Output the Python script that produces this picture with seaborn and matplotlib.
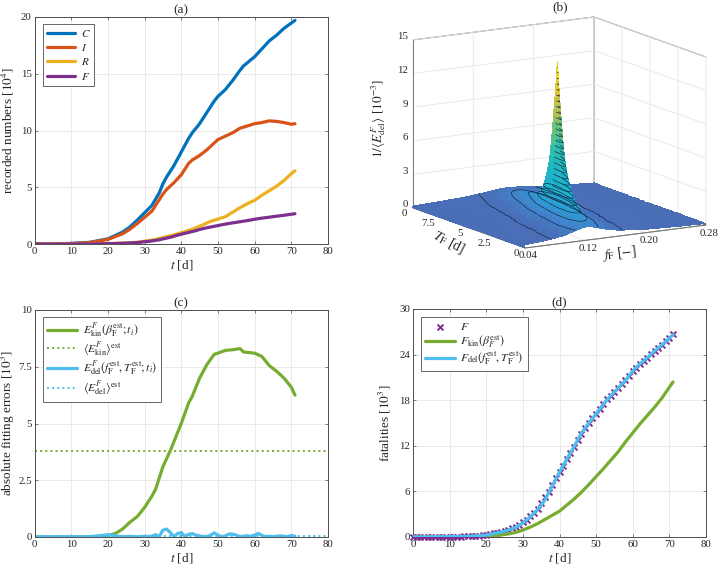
import numpy as np
import matplotlib
matplotlib.use("Agg")
import matplotlib.pyplot as plt
from matplotlib.colors import LinearSegmentedColormap
from mpl_toolkits.mplot3d import proj3d
import seaborn as sns

# ---------- panel (a) ----------
t_C = [0,5,10,15,20,22,24,26,28,30,32,34,35,36,38,40,42,43,45,47,49,50,52,54,56,57,60,62,64,66,68,71]
C = [0,.01,.05,.15,.45,.75,1.05,1.5,2.1,2.75,3.4,4.5,5.3,5.9,6.9,8.1,9.3,9.8,10.6,11.6,12.6,13,13.6,14.4,15.3,15.7,16.5,17.2,17.9,18.4,19,19.7]
t_I = [0,5,10,15,20,22,24,26,28,30,32,34,35,36,38,40,42,43,45,47,49,50,52,54,56,58,60,62,64,66,68,70,71]
I = [0,.01,.04,.12,.4,.65,.9,1.3,1.8,2.35,2.9,3.9,4.4,4.8,5.4,6.1,7.1,7.4,7.8,8.3,8.9,9.2,9.5,9.8,10.2,10.4,10.6,10.7,10.85,10.8,10.7,10.55,10.6]
t_R = [0,10,20,25,28,30,33,36,38,40,43,46,48,50,52,54,56,58,60,62,64,66,68,70,71]
R = [0,0,.02,.1,.15,.25,.4,.65,.8,1,1.3,1.7,2,2.2,2.4,2.8,3.2,3.55,3.85,4.3,4.7,5.1,5.6,6.2,6.45]

# ---------- fatalities, daily, in thousands ----------
t_days = list(range(72))
F_k = [0,0,0,0,0,0,0,.01,.01,.02,.02,.03,.04,.05,.07,.09,.12,.15,.19,.24,.3,.38,.47,.58,.68,.8,.95,1.12,1.3,1.6,
       2.0,2.3,2.7,3.2,3.7,4.5,5.2,5.9,6.8,7.8,8.6,9.4,10.2,11,11.8,12.8,13.6,14.3,15,15.6,16.2,16.9,17.5,18.1,
       18.6,19.1,19.6,20.1,20.6,21.2,21.8,22.3,22.8,23.2,23.6,24.1,24.5,24.9,25.3,25.8,26.2,26.7]
t_kin = [0,15,20,22,24,26,28,30,32,34,36,38,40,42,44,46,48,50,52,54,56,58,60,62,64,66,68,70,71]
F_kin = [0,.02,.1,.17,.26,.4,.6,.9,1.3,1.75,2.3,2.85,3.4,4.2,5.0,5.9,6.9,7.95,9,10.1,11.2,12.5,13.7,14.9,16,17.1,18.3,19.7,20.4]
t_del = [0,15,20,25,28,30,32,34,35,36,38,40,42,44,46,48,50,52,54,56,58,60,62,64,66,68,71]
F_del = [0,.08,.25,.75,1.25,1.85,2.65,3.6,4.2,4.85,6.7,8.55,10.25,11.9,13.7,15,16.2,17.5,18.6,19.6,20.6,21.85,22.8,23.6,24.5,25.3,26.6]

# ---------- panel (c) ----------
t_Ekin = [0,15,20,22,24,26,28,30,32,33,35,37,40,42,43,45,47,49,50,52,54,56,57,60,62,64,66,68,70,71]
E_kin = [0,0,.06,.15,.35,.65,.9,1.3,1.8,2.1,3.1,3.8,5,5.9,6.2,7,7.6,8.05,8.1,8.22,8.25,8.3,8.15,8.1,7.95,7.55,7.3,7,6.6,6.25]
t_Edel = list(range(15,72))
E_del = [.02,.03,.04,.06,.08,.1,.08,.05,.03,.02,.02,.03,.02,.01,.02,.03,.02,.04,.1,.02,.3,.35,.2,.02,.15,.2,.02,.12,.15,.08,.05,.02,.02,.08,.18,.08,.02,.05,.13,.13,.08,.02,.04,.05,.03,.08,.16,.07,.02,.03,.02,.03,.05,.03,.02,.07,.03]
E_kin_mean = 3.8
E_del_mean = 0.05

# ---------- panel (b) surface, read along the ridge ----------
T_st = [0,.5,1,1.5,2,2.3,2.6,2.9,3.1,3.3,3.5,3.6,3.7,3.8,3.9,4.1,4.3,4.5,4.8,5.1,5.5,6,6.5,7,7.5,8,8.5,9,9.5,10]
ridge_f = [.122,.1242,.1263,.1285,.1306,.1319,.1332,.1345,.1353,.1362,.137,.1375,.1379,.1383,.1388,.1396,.1405,.1414,.1426,.1439,.1457,.1478,.15,.1521,.1543,.1564,.1586,.1607,.1629,.165]
ridge_z = [1.2,1.5,1.9,2.5,3.2,4,5,6.3,8,10,12,13.2,14.5,13.2,12,10,8,6,4.4,3.2,2.4,1.95,1.7,1.55,1.4,1.25,1.1,.95,.85,.75]
ridge_w = [.0208,.0167,.0132,.01,.0078,.0063,.005,.004,.0031,.0025,.0021,.0019,.0017,.0019,.0021,.0025,.0031,.0042,.0057,.0078,.0104,.0128,.0147,.0161,.0179,.02,.0227,.0263,.0294,.0333]
cross_u = [0,.25,.5,.75,1,1.5,2,3,4,6,8,12,16,24,32,48,64,100,150,200]
cross_z = [1,.97,.89,.8,.71,.55,.45,.32,.24,.16,.12,.083,.062,.042,.031,.021,.016,.01,.0067,.005]
f_ticks = [.04,.12,.20,.28]
f_tick_labels = ['0.04','0.12','0.20','0.28']
T_ticks = [0,2.5,5,7.5,10]
T_tick_labels = ['0','2.5','5','7.5','0']
z_ticks = [0,3,6,9,12,15]

parula_like = [(0,'#4a6db5'),(.035,'#4a6fb8'),(.08,'#3f86cc'),(.14,'#2a9fd6'),(.22,'#1fb2cf'),(.38,'#20b8c0'),(.52,'#35c0a0'),(.66,'#8cc46a'),(.8,'#d8c040'),(1,'#f9e020')]

# ---------- style ----------
sns.set_theme(style='whitegrid')
plt.rcParams['font.family'] = ['Liberation Serif', 'DejaVu Serif']
plt.rcParams['mathtext.fontset'] = 'stix'
plt.rcParams['axes.linewidth'] = 0.7

W, H = 727, 565
fig = plt.figure(figsize=(W/100, H/100), dpi=100, facecolor='white')

def make_axes(l, r, top, bot):
    return fig.add_axes([l/W, 1-bot/H, (r-l)/W, (bot-top)/H])

GRAY = '#4d4d4d'
INK = '#262626'
def style(ax, ymax, yticks, ylabels, ylabel, title, ylab_x):
    ax.set_xlim(0, 80)
    ax.set_ylim(0, ymax)
    ax.set_xticks(range(0, 81, 10))
    ax.set_yticks(yticks)
    ax.set_yticklabels(ylabels)
    ax.set_facecolor('white')
    ax.grid(True, color='#e6e6e6', lw=0.6)
    for s in ax.spines.values():
        s.set_visible(True)
        s.set_color(GRAY)
        s.set_linewidth(0.7)
    ax.tick_params(direction='in', length=2.5, width=0.5, color=GRAY, labelcolor=INK,
                   labelsize=7.8, pad=2, top=True, right=True, bottom=True, left=True)
    ax.set_xlabel(r'$t$ [d]', fontsize=9.5, color=INK)
    ax.set_ylabel(ylabel, fontsize=9.5, color=INK)
    ax.xaxis.set_label_coords(.5, -.062)
    ax.yaxis.set_label_coords(ylab_x, .5)
    ax.set_title(title, fontsize=9.5, pad=3, color=INK)

def legend(ax, x, y, fs, spacing):
    leg = ax.legend(loc='upper left', bbox_to_anchor=(x, y), borderaxespad=0, fancybox=False,
                    framealpha=1, edgecolor=GRAY, fontsize=fs, handlelength=2.5,
                    labelspacing=spacing, borderpad=0.35, handletextpad=0.5)
    leg.get_frame().set_linewidth(0.6)
    return leg

BLUE, RED, YEL, PUR, GRN, SKY = '#0072BD', '#D95319', '#EDB120', '#7E2F8E', '#77AC30', '#4DBEEE'
LW = 2.3

# (a)
ax = make_axes(34.5, 328, 17, 244)
sns.lineplot(x=t_C, y=C, ax=ax, color=BLUE, lw=LW, label=r'$C$')
sns.lineplot(x=t_I, y=I, ax=ax, color=RED, lw=LW, label=r'$I$')
sns.lineplot(x=t_R, y=R, ax=ax, color=YEL, lw=LW, label=r'$R$')
sns.lineplot(x=t_days, y=[v/10 for v in F_k], ax=ax, color=PUR, lw=LW, label=r'$F$')
style(ax, 20, [0,5,10,15,20], ['0','5','10','15','20'], r'recorded numbers [$10^4$]', '(a)', -.063)
legend(ax, 0.03, 0.97, 8, 0.3)

# (c)
ax = make_axes(34.5, 328, 310, 537)
sns.lineplot(x=t_Ekin, y=E_kin, ax=ax, color=GRN, lw=LW, label=r'$E_{\mathrm{kin}}^{F}(\beta_{\mathrm{F}}^{\mathrm{est}};t_i)$')
sns.lineplot(x=[0,80], y=[E_kin_mean]*2, ax=ax, color=GRN, lw=1.4, ls=':', label=r'$\langle E_{\mathrm{kin}}^{F}\rangle^{\mathrm{est}}$')
sns.lineplot(x=t_days[:15]+t_Edel, y=[.01]*15+E_del, ax=ax, color=SKY, lw=LW, label=r'$E_{\mathrm{del}}^{F}(f_{\mathrm{F}}^{\mathrm{est}},T_{\mathrm{F}}^{\mathrm{est}};t_i)$')
sns.lineplot(x=[0,80], y=[E_del_mean]*2, ax=ax, color=SKY, lw=1.4, ls=':', label=r'$\langle E_{\mathrm{del}}^{F}\rangle^{\mathrm{est}}$')
style(ax, 10, [0,2.5,5,7.5,10], ['0','2.5','5','7.5','10'], r'absolute fitting errors [$10^3$]', '(c)', -.058)
legend(ax, 0.03, 0.967, 8.5, 0.0)

# (d)
ax = make_axes(413, 706, 309, 537)
sns.scatterplot(x=t_days, y=F_k, ax=ax, color=PUR, marker='x', s=18, linewidth=1.4, label=r'$F$', clip_on=False, zorder=3)
sns.lineplot(x=t_kin, y=F_kin, ax=ax, color=GRN, lw=LW, label=r'$F_{\mathrm{kin}}(\beta_{F}^{\mathrm{est}})$', zorder=4)
sns.lineplot(x=t_del, y=F_del, ax=ax, color=SKY, lw=LW, label=r'$F_{\mathrm{del}}(f_{\mathrm{F}}^{\mathrm{est}},T_{\mathrm{F}}^{\mathrm{est}})$', zorder=5)
style(ax, 30, [0,6,12,18,24,30], ['0','6','12','18','24','30'], r'fatalities [$10^3$]', '(d)', -.068)
legend(ax, 0.027, 0.965, 8.5, 0.0)

# (b)
ax3 = fig.add_axes([380/W, 1-270/H, 340/W, 270/H], projection='3d', computed_zorder=False)
ax3.set_proj_type('ortho')
ax3.set_box_aspect((210.7, 218.8, 172), zoom=1.0)
ax3.view_init(elev=12.3, azim=-120.8)
ax3.set_xlim(.04, .28); ax3.set_ylim(0, 10); ax3.set_zlim(0, 15)
ax3.set_xticks(f_ticks); ax3.set_yticks(T_ticks); ax3.set_zticks(z_ticks)
ax3.patch.set_alpha(0)
for a in (ax3.xaxis, ax3.yaxis, ax3.zaxis):
    a.set_pane_color((1, 1, 1, 1))
    a.pane.set_edgecolor('#666666')
    a.pane.set_linewidth(0.7)
    a._axinfo['grid'].update(color='#e6e6e6', linewidth=0.6)
    a._axinfo['tick'].update(inward_factor=0, outward_factor=0)
    a.line.set_color('#666666')
    a.line.set_linewidth(0.6)
    a.set_major_formatter(matplotlib.ticker.NullFormatter())

u = np.array([-v for v in cross_u[:0:-1]] + cross_u)
s = np.array(cross_z[:0:-1] + cross_z)
Tg = np.array(T_st)
X = np.array(ridge_f)[:, None] + np.array(ridge_w)[:, None] * u[None, :]
X = np.clip(X, .04, .28)
Y = np.repeat(Tg[:, None], u.size, axis=1)
Z = np.array(ridge_z)[:, None] * s[None, :]
cmap = LinearSegmentedColormap.from_list('parula_like', parula_like)
ax3.plot_surface(X, Y, Z, cmap=cmap, vmin=0, vmax=14.5, shade=False, linewidth=0, antialiased=False,
                 rcount=X.shape[0], ccount=X.shape[1], zorder=1)
front = Tg <= 3.7
levels = np.arange(.5, 14.5, .5)
ax3.contour(X[front], Y[front], Z[front], levels=levels, colors='#10203a', linewidths=0.45, zorder=2)
ax3.contour(X[~front], Y[~front], Z[~front], levels=levels[levels <= 3], colors='#10203a', linewidths=0.45, zorder=2)

# fit the projected box onto the reference corners
fig.canvas.draw()
def px(x, y, z):
    xp, yp, _ = proj3d.proj_transform(x, y, z, ax3.get_proj())
    return ax3.transData.transform((xp, yp))
fr, rt, lf = px(.04, 0, 0), px(.28, 0, 0), px(.04, 10, 0)
scale = (706 - 413) / (rt[0] - lf[0])
pos = ax3.get_position()
nw, nh = pos.width * scale, pos.height * scale
ax3.set_position([pos.x0, pos.y0, nw, nh])
fig.canvas.draw()
fr = px(.04, 0, 0)
pos = ax3.get_position()
ax3.set_position([pos.x0 + (525 - fr[0]) / W, pos.y0 + ((H - 248) - fr[1]) / H, pos.width, pos.height])
fig.canvas.draw()

# tick labels of (b) at the projected positions of their ticks
def label3d(point, dx, dy, text, ha):
    x_, y_ = px(*point)
    fig.text((x_ + dx) / W, (y_ + dy) / H, text, ha=ha, va='center', fontsize=7.8, color=INK)
for v in z_ticks:
    label3d((.04, 10, v), -5, 3, str(v), 'right')
for v, lab in zip(f_ticks, f_tick_labels):
    label3d((v, 0, 0), 3, -8, lab, 'center')
for v, lab in zip(T_ticks, T_tick_labels):
    label3d((.04, v, 0), -6, -5.5, lab, 'right')

fig.text(560/W, 1-7/H, '(b)', ha='center', va='center', fontsize=9.5, color=INK)
fig.text(449/W, 1-242/H, r'$T_{\mathrm{F}}$ [d]', ha='center', va='center', rotation=-28, fontsize=10, color=INK)
fig.text(619/W, 1-253/H, r'$f_{\mathrm{F}}$ [$-$]', ha='center', va='center', rotation=7, fontsize=10, color=INK)
fig.text(379/W, 1-118/H, r'$1/\langle E_{\mathrm{del}}^{F}\rangle$ [$10^{-3}$]', ha='center', va='center', rotation=90, fontsize=9.5, color=INK)

fig.savefig('out.png', dpi=100)
